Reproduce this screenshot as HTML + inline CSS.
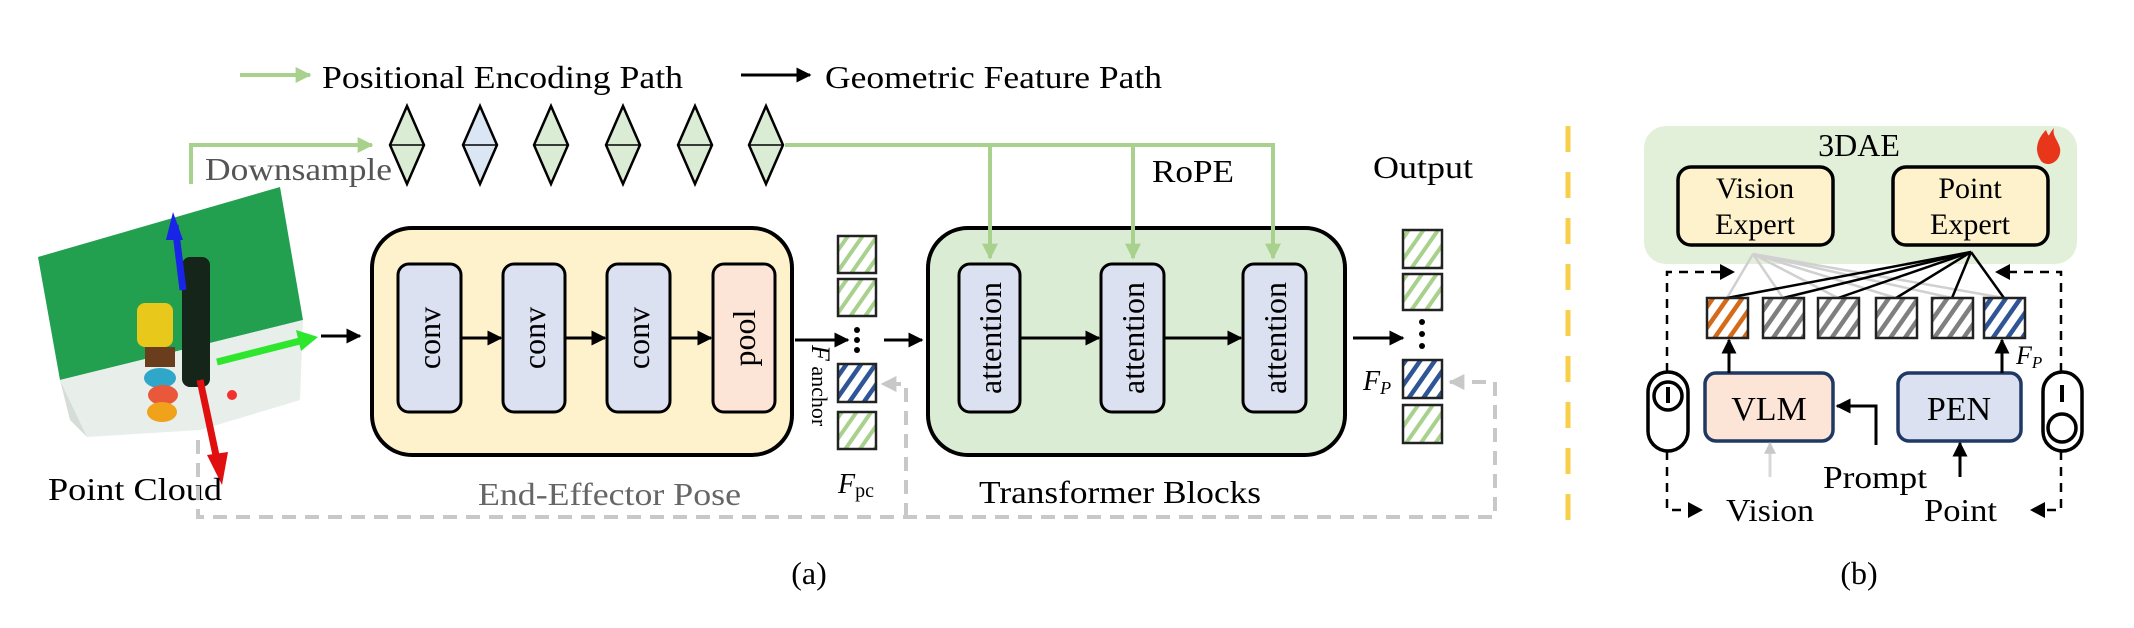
<!DOCTYPE html>
<html><head><meta charset="utf-8"><style>
html,body{margin:0;padding:0;background:#fff}
svg{display:block}
text{font-family:"Liberation Serif",serif}
</style></head><body>
<svg width="2134" height="628" viewBox="0 0 2134 628" xmlns="http://www.w3.org/2000/svg">
<defs>
<marker id="ab" viewBox="0 0 10 10" refX="9" refY="5" markerWidth="5" markerHeight="5" orient="auto"><path d="M0,0L10,5L0,10z" fill="#000"/></marker>
<marker id="ag" viewBox="0 0 10 10" refX="9" refY="5" markerWidth="4" markerHeight="4" orient="auto"><path d="M0,0L10,5L0,10z" fill="#a9d18e"/></marker>
<marker id="agr" viewBox="0 0 10 10" refX="9" refY="5" markerWidth="4" markerHeight="4" orient="auto"><path d="M0,0L10,5L0,10z" fill="#c8c8c8"/></marker>
<pattern id="hg" width="12" height="12" patternUnits="userSpaceOnUse" patternTransform="rotate(35)"><rect width="12" height="12" fill="#fff"/><rect width="4" height="12" fill="#a9d18e"/></pattern>
<pattern id="hb" width="12" height="12" patternUnits="userSpaceOnUse" patternTransform="rotate(35)"><rect width="12" height="12" fill="#fff"/><rect width="4.5" height="12" fill="#2f5597"/></pattern>
<pattern id="ho" width="12" height="12" patternUnits="userSpaceOnUse" patternTransform="rotate(35)"><rect width="12" height="12" fill="#fff"/><rect width="4.5" height="12" fill="#d46b1a"/></pattern>
<pattern id="hk" width="12" height="12" patternUnits="userSpaceOnUse" patternTransform="rotate(35)"><rect width="12" height="12" fill="#fff"/><rect width="4.5" height="12" fill="#7f7f7f"/></pattern>
</defs>

<!-- legend -->
<line x1="240" y1="75" x2="310" y2="75" stroke="#a9d18e" stroke-width="4" marker-end="url(#ag)"/>
<text x="322" y="88" font-size="32" textLength="361" lengthAdjust="spacingAndGlyphs">Positional Encoding Path</text>
<line x1="741" y1="75" x2="810" y2="75" stroke="#000" stroke-width="3" marker-end="url(#ab)"/>
<text x="825" y="88" font-size="32" textLength="337" lengthAdjust="spacingAndGlyphs">Geometric Feature Path</text>

<!-- downsample -->
<polyline points="191,184 191,145 372,145" fill="none" stroke="#a9d18e" stroke-width="4" marker-end="url(#ag)"/>
<text x="205" y="180" font-size="32" fill="#555" textLength="187" lengthAdjust="spacingAndGlyphs">Downsample</text>

<!-- diamonds -->
<g stroke="#000" stroke-width="2.5">
<path d="M407,106 L424,145 L407,184 L390,145z" fill="#dbecd5"/>
<path d="M480,106 L497,145 L480,184 L463,145z" fill="#dae6f4"/>
<path d="M551,106 L568,145 L551,184 L534,145z" fill="#dbecd5"/>
<path d="M623,106 L640,145 L623,184 L606,145z" fill="#dbecd5"/>
<path d="M695,106 L712,145 L695,184 L678,145z" fill="#dbecd5"/>
<path d="M766,106 L783,145 L766,184 L749,145z" fill="#dbecd5"/>
<path d="M390,145H424M463,145H497M534,145H568M606,145H640M678,145H712M749,145H783" fill="none" stroke-width="1.5"/>
</g>

<!-- point cloud -->
<path d="M38,257 L280,187 L303,320 L60,380z" fill="#22a050"/>
<path d="M60,380 L303,320 L300,400 L267,410 L200,430 L87,437z" fill="#e8eeea"/>
<path d="M60,380 L87,437 L70,420z" fill="#d6ddd8"/>
<rect x="137" y="303" width="36" height="44" rx="8" fill="#e8c81a"/>
<rect x="145" y="347" width="30" height="20" fill="#6a3e1c"/>
<ellipse cx="160" cy="378" rx="16" ry="10" fill="#2fa7c9"/>
<ellipse cx="163" cy="395" rx="15" ry="10" fill="#e9583a"/>
<ellipse cx="162" cy="412" rx="15" ry="10" fill="#f0a21a"/>
<rect x="182" y="257" width="28" height="130" rx="8" fill="#152519"/>
<circle cx="232" cy="395" r="5" fill="#f23030"/>
<line x1="183" y1="290" x2="175" y2="225" stroke="#1a23e8" stroke-width="7"/>
<path d="M173,212 L183,240 L166,240z" fill="#1a23e8"/>
<line x1="217" y1="362" x2="300" y2="341" stroke="#2ee62e" stroke-width="7"/>
<path d="M318,337 L296,330 L301,351z" fill="#2ee62e"/>
<line x1="200" y1="380" x2="217" y2="460" stroke="#e01010" stroke-width="7"/>
<path d="M222,485 L207,455 L228,452z" fill="#e01010"/>
<text x="48" y="500" font-size="32" textLength="174" lengthAdjust="spacingAndGlyphs">Point Cloud</text>
<line x1="321" y1="336" x2="360" y2="336" stroke="#000" stroke-width="3" marker-end="url(#ab)"/>

<!-- grey dashed feedback -->
<g stroke="#c8c8c8" stroke-width="4" stroke-dasharray="14,9" fill="none">
<polyline points="198,440 198,517 1495,517 1495,382 1450,382" marker-end="url(#agr)"/>
<polyline points="906,517 906,384 882,384" marker-end="url(#agr)"/>
</g>

<!-- End-effector block -->
<rect x="372" y="228" width="420" height="227" rx="40" fill="#fdf2cc" stroke="#000" stroke-width="4"/>
<g stroke="#000" stroke-width="3">
<rect x="398" y="264" width="63" height="148" rx="11" fill="#dbe1f1"/>
<rect x="503" y="264" width="62" height="148" rx="11" fill="#dbe1f1"/>
<rect x="607" y="264" width="63" height="148" rx="11" fill="#dbe1f1"/>
<rect x="713" y="264" width="62" height="148" rx="11" fill="#fce4d6"/>
</g>
<g font-size="32" text-anchor="middle">
<text transform="translate(440,338) rotate(-90)">conv</text>
<text transform="translate(545,338) rotate(-90)">conv</text>
<text transform="translate(649,338) rotate(-90)">conv</text>
<text transform="translate(755,338) rotate(-90)">pool</text>
</g>
<g stroke="#000" stroke-width="3" marker-end="url(#ab)">
<line x1="461" y1="338" x2="501" y2="338"/>
<line x1="565" y1="338" x2="605" y2="338"/>
<line x1="670" y1="338" x2="711" y2="338"/>
<line x1="795" y1="340" x2="848" y2="340"/>
</g>
<text x="478" y="505" font-size="32" fill="#666" textLength="263" lengthAdjust="spacingAndGlyphs">End-Effector Pose</text>
<text transform="translate(812,345) rotate(90)" font-size="22"><tspan font-style="italic" font-size="26">F</tspan> anchor</text>

<!-- feature column 1 -->
<g stroke="#222" stroke-width="2.5">
<rect x="838" y="236" width="38" height="37" fill="url(#hg)"/>
<rect x="838" y="279" width="38" height="37" fill="url(#hg)"/>
<rect x="838" y="364" width="38" height="38" fill="url(#hb)"/>
<rect x="838" y="412" width="38" height="37" fill="url(#hg)"/>
</g>
<g fill="#000"><circle cx="857" cy="330" r="3"/><circle cx="857" cy="340" r="3"/><circle cx="857" cy="350" r="3"/></g>
<text x="838" y="493" font-size="28" font-style="italic">F<tspan font-size="20" font-style="normal" dy="4">pc</tspan></text>
<line x1="884" y1="340" x2="922" y2="340" stroke="#000" stroke-width="3" marker-end="url(#ab)"/>

<!-- transformer -->
<rect x="928" y="228" width="417" height="227" rx="40" fill="#dbecd5" stroke="#000" stroke-width="4"/>
<g stroke="#a9d18e" stroke-width="4" fill="none">
<polyline points="785,145 1273,145 1273,258" marker-end="url(#ag)"/>
<line x1="990" y1="145" x2="990" y2="258" marker-end="url(#ag)"/>
<line x1="1133" y1="145" x2="1133" y2="258" marker-end="url(#ag)"/>
</g>
<g stroke="#000" stroke-width="3" fill="#dbe1f1">
<rect x="959" y="264" width="61" height="148" rx="11"/>
<rect x="1101" y="264" width="63" height="148" rx="11"/>
<rect x="1243" y="264" width="63" height="148" rx="11"/>
</g>
<g font-size="32" text-anchor="middle">
<text transform="translate(1001,338) rotate(-90)">attention</text>
<text transform="translate(1144,338) rotate(-90)">attention</text>
<text transform="translate(1286,338) rotate(-90)">attention</text>
</g>
<g stroke="#000" stroke-width="3" marker-end="url(#ab)">
<line x1="1020" y1="338" x2="1099" y2="338"/>
<line x1="1164" y1="338" x2="1241" y2="338"/>
<line x1="1353" y1="338" x2="1403" y2="338"/>
</g>
<text x="979" y="503" font-size="32" textLength="282" lengthAdjust="spacingAndGlyphs">Transformer Blocks</text>
<text x="1152" y="182" font-size="32" textLength="82" lengthAdjust="spacingAndGlyphs">RoPE</text>
<text x="1373" y="178" font-size="32" textLength="100" lengthAdjust="spacingAndGlyphs">Output</text>

<!-- output column -->
<g stroke="#222" stroke-width="2.5">
<rect x="1403" y="230" width="39" height="38" fill="url(#hg)"/>
<rect x="1403" y="274" width="39" height="36" fill="url(#hg)"/>
<rect x="1403" y="360" width="39" height="38" fill="url(#hb)"/>
<rect x="1403" y="405" width="39" height="38" fill="url(#hg)"/>
</g>
<g fill="#000"><circle cx="1422" cy="322" r="3"/><circle cx="1422" cy="334" r="3"/><circle cx="1422" cy="346" r="3"/></g>
<text x="1363" y="390" font-size="28" font-style="italic">F<tspan font-size="18" dy="4">P</tspan></text>
<text x="809" y="584" font-size="32" text-anchor="middle">(a)</text>

<!-- separator -->
<line x1="1568" y1="126" x2="1568" y2="527" stroke="#f9cf4a" stroke-width="5" stroke-dasharray="26,20"/>

<!-- panel b -->
<rect x="1644" y="126" width="433" height="138" rx="22" fill="#e2f0d9"/>
<text x="1859" y="156" font-size="32" text-anchor="middle">3DAE</text>
<path d="M2046,130 C2036,140 2034,152 2042,162 C2050,168 2062,160 2060,148 C2058,140 2052,136 2054,128 C2048,134 2050,140 2046,130z" fill="#e8361a"/>
<rect x="1678" y="167" width="155" height="78" rx="13" fill="#fdf2cc" stroke="#000" stroke-width="3.5"/>
<rect x="1893" y="167" width="155" height="78" rx="13" fill="#fdf2cc" stroke="#000" stroke-width="3.5"/>
<g font-size="30" text-anchor="middle">
<text x="1755" y="198">Vision</text><text x="1755" y="234">Expert</text>
<text x="1970" y="198">Point</text><text x="1970" y="234">Expert</text>
</g>
<g stroke="#d0d0d0" stroke-width="2.5">
<line x1="1753" y1="254" x2="1727" y2="298"/><line x1="1753" y1="254" x2="1783" y2="298"/>
<line x1="1753" y1="254" x2="1838" y2="298"/><line x1="1753" y1="254" x2="1896" y2="298"/>
<line x1="1753" y1="254" x2="1952" y2="298"/><line x1="1753" y1="254" x2="2004" y2="298"/>
</g>
<g stroke="#000" stroke-width="2.5">
<line x1="1971" y1="252" x2="1727" y2="298"/><line x1="1971" y1="252" x2="1783" y2="298"/>
<line x1="1971" y1="252" x2="1838" y2="298"/><line x1="1971" y1="252" x2="1896" y2="298"/>
<line x1="1971" y1="252" x2="1952" y2="298"/><line x1="1971" y1="252" x2="2004" y2="298"/>
</g>
<g stroke="#222" stroke-width="2.5">
<rect x="1707" y="298" width="41" height="40" fill="url(#ho)"/>
<rect x="1763" y="298" width="41" height="40" fill="url(#hk)"/>
<rect x="1818" y="298" width="41" height="40" fill="url(#hk)"/>
<rect x="1876" y="298" width="41" height="40" fill="url(#hk)"/>
<rect x="1932" y="298" width="41" height="40" fill="url(#hk)"/>
<rect x="1984" y="298" width="41" height="40" fill="url(#hb)"/>
</g>
<g stroke="#000" stroke-width="2.5" stroke-dasharray="9,7" fill="none">
<polyline points="1667,372 1667,272 1730,272"/>
<polyline points="2061,372 2061,272 2000,272"/>
<polyline points="1667,451 1667,510 1695,510"/>
<polyline points="2061,451 2061,510 2036,510"/>
</g>
<g fill="#000">
<path d="M1735,272 L1720,264 L1720,280z"/>
<path d="M1995,272 L2010,264 L2010,280z"/>
<path d="M1703,510 L1688,502 L1688,518z"/>
<path d="M2030,510 L2045,502 L2045,518z"/>
</g>
<g stroke="#000" stroke-width="3.5" fill="#fff">
<rect x="1648" y="372" width="40" height="79" rx="20"/>
<circle cx="1668" cy="396" r="14"/>
<rect x="2043" y="372" width="39" height="79" rx="19.5"/>
<circle cx="2062" cy="428" r="14"/>
</g>
<line x1="1668" y1="387" x2="1668" y2="403" stroke="#000" stroke-width="4"/>
<line x1="2062" y1="385" x2="2062" y2="402" stroke="#000" stroke-width="4"/>
<rect x="1705" y="373" width="128" height="68" rx="11" fill="#fce4d6" stroke="#1f3864" stroke-width="3.5"/>
<rect x="1898" y="373" width="123" height="68" rx="11" fill="#dbe1f1" stroke="#1f3864" stroke-width="3.5"/>
<g font-size="34" text-anchor="middle">
<text x="1769" y="420">VLM</text><text x="1959" y="420">PEN</text>
</g>
<g stroke="#000" stroke-width="3" fill="none" marker-end="url(#ab)">
<line x1="1729" y1="373" x2="1729" y2="340"/>
<line x1="2002" y1="373" x2="2002" y2="340"/>
<polyline points="1876,445 1876,406 1837,406"/>
<line x1="1960" y1="477" x2="1960" y2="443"/>
</g>
<line x1="1770" y1="477" x2="1770" y2="443" stroke="#d8d8d8" stroke-width="3" marker-end="url(#agr)"/>
<text x="2016" y="364" font-size="26" font-style="italic">F<tspan font-size="17" dy="4">P</tspan></text>
<g font-size="32">
<text x="1823" y="488" textLength="104" lengthAdjust="spacingAndGlyphs">Prompt</text>
<text x="1726" y="521" textLength="88" lengthAdjust="spacingAndGlyphs">Vision</text>
<text x="1924" y="521" textLength="73" lengthAdjust="spacingAndGlyphs">Point</text>
</g>
<text x="1859" y="584" font-size="32" text-anchor="middle">(b)</text>
</svg>
</body></html>
